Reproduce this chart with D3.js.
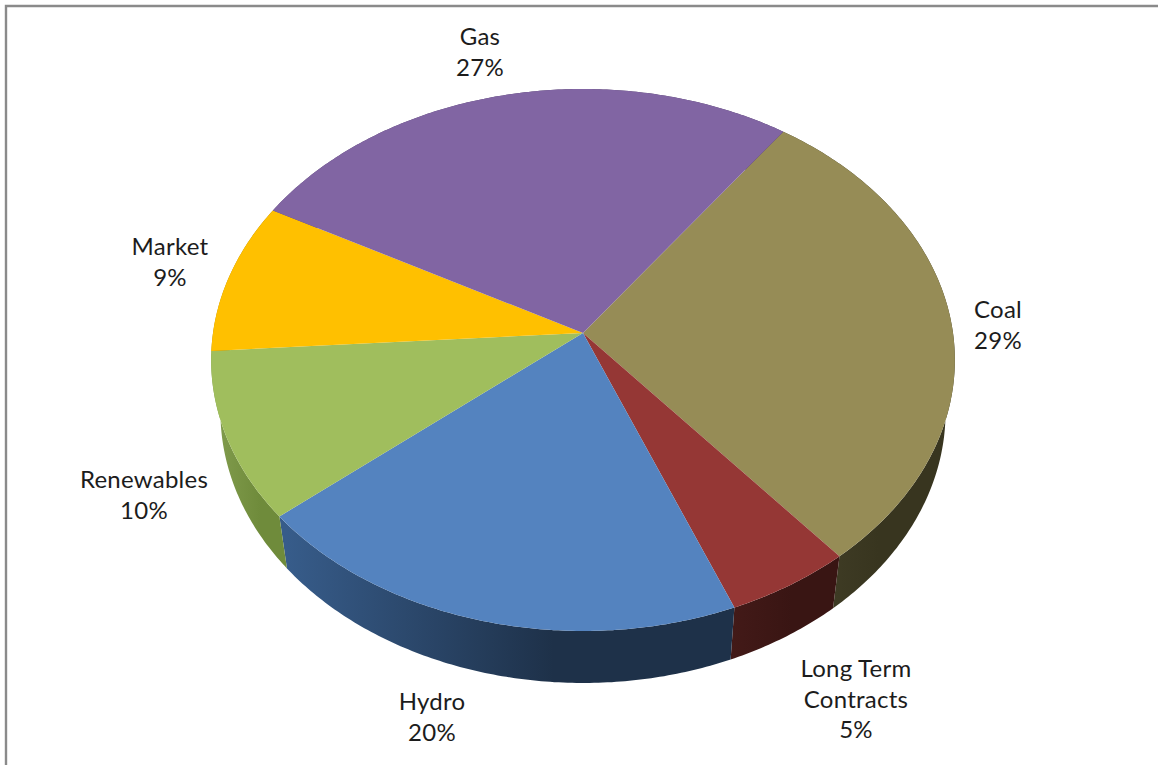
<!DOCTYPE html>
<html>
<head>
<meta charset="utf-8">
<title>Generation mix</title>
<script src="https://cdn.jsdelivr.net/npm/d3@7/dist/d3.min.js"></script>
<style>
  html, body { margin: 0; padding: 0; background: #fff; overflow: hidden; }
  svg { display: block; }
  text { font-family: Lato, "Open Sans", sans-serif; font-size: 24px; letter-spacing: 0.25px; fill: #1c1c1c; text-anchor: middle; }
</style>
</head>
<body>
<svg id="chart" width="1158" height="765"></svg>
<script>
// Fuel mix, clockwise from the Gas/Coal boundary
const categories = ["Coal", "Long Term Contracts", "Hydro", "Renewables", "Market", "Gas"];
const shares = [29, 5, 20, 10, 9, 27];

// Face colours and the light/dark ends of each slice's rim shading
const faceColors = ["#968c56", "#953735", "#5483bf", "#a0be5d", "#ffc000", "#8165a3"];
const rimLeft = ["#45422a", "#431a18", "#375c8a", "#7f9a4b", "#b08600", "#5a4672"];
const rimRight = ["#38351f", "#391513", "#1e3149", "#6f8b3b", "#9c7700", "#4d3c63"];

// Label lines and their centre / first baseline, in category order
const labelLines = [["Coal"], ["Long Term", "Contracts"], ["Hydro"], ["Renewables"], ["Market"], ["Gas"]];
const labelAnchors = [[998, 318], [856, 677], [432, 710], [144, 488], [170, 255], [480, 45]];

const svg = d3.select("#chart");

// Perspective disc: the centre of the pie projects above the middle of its ellipse
const centre = { x: 583, y: 333 };
const scaleX = 370, scaleY = 268.3, tilt = 0.0996;
const rimDepth = 52, rimShrink = 0.975;
const firstAngle = 35.8 * Math.PI / 180;

function facePoint(angle) {
  const X = Math.sin(angle), Y = -Math.cos(angle);
  const w = 1 - tilt * Y;
  return [centre.x + scaleX * X / w, centre.y + scaleY * Y / w];
}
function rimPoint(angle) {
  const [x, y] = facePoint(angle);
  return [centre.x + (x - centre.x) * rimShrink, y + rimDepth];
}
function sampleAngles(a0, a1) {
  const n = Math.max(2, Math.ceil((a1 - a0) * 90));
  return d3.range(n + 1).map(i => a0 + (a1 - a0) * i / n);
}

const arcs = d3.pie().sort(null).startAngle(firstAngle).endAngle(firstAngle + 2 * Math.PI)(shares);
const outline = d3.line().curve(d3.curveLinear);

// Horizontal rim shading, one gradient per slice; the dark end is reached past mid-slice
const defs = svg.append("defs");
const rimExtentX = arcs.map(d => d3.extent(sampleAngles(d.startAngle, d.endAngle).map(a => rimPoint(a)[0])));
const grads = defs.selectAll("linearGradient").data(arcs).join("linearGradient")
  .attr("id", (d, i) => "rim" + i)
  .attr("gradientUnits", "userSpaceOnUse")
  .attr("x1", (d, i) => rimExtentX[i][0]).attr("x2", (d, i) => rimExtentX[i][1])
  .attr("y1", 0).attr("y2", 0);
grads.append("stop").attr("offset", 0).attr("stop-color", (d, i) => rimLeft[i]);
grads.append("stop").attr("offset", 0.6).attr("stop-color", (d, i) => rimRight[i]);

// Chart frame: only the top and left edges fall inside the page
svg.append("path").attr("d", "M6,765V6H1158").attr("fill", "none").attr("stroke", "#8a8a8a").attr("stroke-width", 2.4);

// Rim first, so the top faces cover the hidden part of it
svg.append("g").selectAll("path").data(arcs).join("path")
  .attr("fill", (d, i) => `url(#rim${i})`)
  .attr("d", d => {
    const as = sampleAngles(d.startAngle, d.endAngle);
    return outline(as.map(a => facePoint(a)).concat(as.slice().reverse().map(a => rimPoint(a)))) + "Z";
  });

svg.append("g").selectAll("path").data(arcs).join("path")
  .attr("fill", (d, i) => faceColors[i])
  .attr("d", d => outline([[centre.x, centre.y]].concat(sampleAngles(d.startAngle, d.endAngle).map(a => facePoint(a)))) + "Z");

// Category name followed by its share
const labels = svg.append("g").selectAll("text").data(categories).join("text")
  .attr("x", (d, i) => labelAnchors[i][0])
  .attr("y", (d, i) => labelAnchors[i][1]);
labels.selectAll("tspan")
  .data((d, i) => labelLines[i].concat([shares[i] + "%"]))
  .join("tspan")
  .attr("x", function () { return this.parentNode.getAttribute("x"); })
  .attr("dy", (d, i) => i === 0 ? 0 : 30.7)
  .text(d => d);
</script>
</body>
</html>
